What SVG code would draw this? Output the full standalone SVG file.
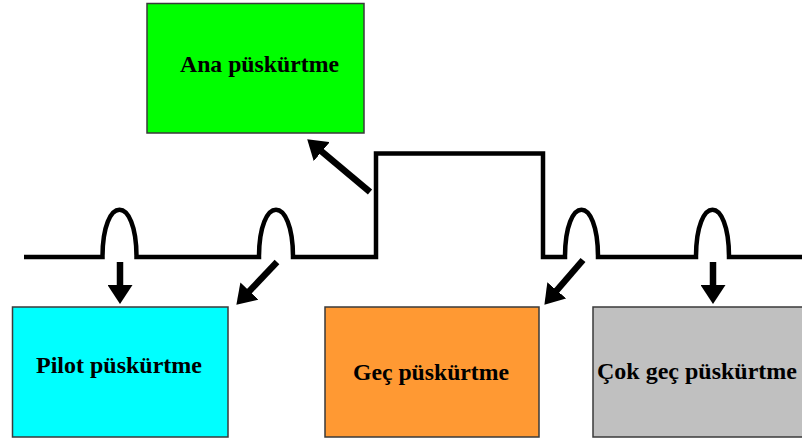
<svg xmlns="http://www.w3.org/2000/svg" width="802" height="441" viewBox="0 0 802 441">
  <style>
    .box { stroke: #3a3a3a; stroke-width: 1.5; }
    .lbl { font-family: "Liberation Serif", "Times New Roman", serif; font-weight: bold; font-size: 24px; fill: #000; }
    .wave { fill: none; stroke: #000; stroke-width: 4.5; stroke-linejoin: miter; }
    .arr { fill: none; stroke: #000; stroke-width: 6.5; marker-end: url(#head); }
  </style>
  <defs>
    <marker id="head" markerUnits="userSpaceOnUse" viewBox="0 0 19 25" markerWidth="19" markerHeight="25" refX="4" refY="12.5" orient="auto">
      <path d="M0,0 L19,12.5 L0,25 z" fill="#000"/>
    </marker>
  </defs>
  <rect width="802" height="441" fill="#fff"/>

  <!-- injection timing waveform -->
  <g id="waveform">
    <path class="wave" d="M24,257 H102.5 C102.5,194 136.5,194 136.5,257 H259 C259,194 293,194 293,257 H376 V153.5 H543 V257 H565 C565,194 598,194 598,257 H696 C696,194 729,194 729,257 H802"/>
  </g>

  <!-- arrows from each pulse to its label -->
  <g id="connectors">
    <line class="arr" x1="370" y1="192" x2="318.7" y2="149"/>
    <line class="arr" x1="120" y1="262" x2="120" y2="289"/>
    <line class="arr" x1="277" y1="262" x2="246.7" y2="293.9"/>
    <line class="arr" x1="583" y1="260" x2="554.2" y2="293.4"/>
    <line class="arr" x1="713" y1="262" x2="713" y2="289"/>
  </g>

  <g id="ana">
    <rect class="box" x="147" y="3.5" width="217" height="129.5" fill="#00ff00"/>
    <text class="lbl" x="180" y="72" textLength="159" lengthAdjust="spacingAndGlyphs">Ana püskürtme</text>
  </g>

  <g id="pilot">
    <rect class="box" x="12.5" y="307" width="215.5" height="130" fill="#00ffff"/>
    <text class="lbl" x="36" y="373" textLength="166" lengthAdjust="spacingAndGlyphs">Pilot püskürtme</text>
  </g>

  <g id="gec">
    <rect class="box" x="325" y="307" width="214" height="130" fill="#ff9933"/>
    <text class="lbl" x="353" y="380" textLength="156" lengthAdjust="spacingAndGlyphs">Geç püskürtme</text>
  </g>

  <g id="cokgec">
    <rect class="box" x="593" y="307" width="215" height="130" fill="#c0c0c0"/>
    <text class="lbl" x="597" y="379" textLength="200" lengthAdjust="spacingAndGlyphs">Çok geç püskürtme</text>
  </g>
</svg>
